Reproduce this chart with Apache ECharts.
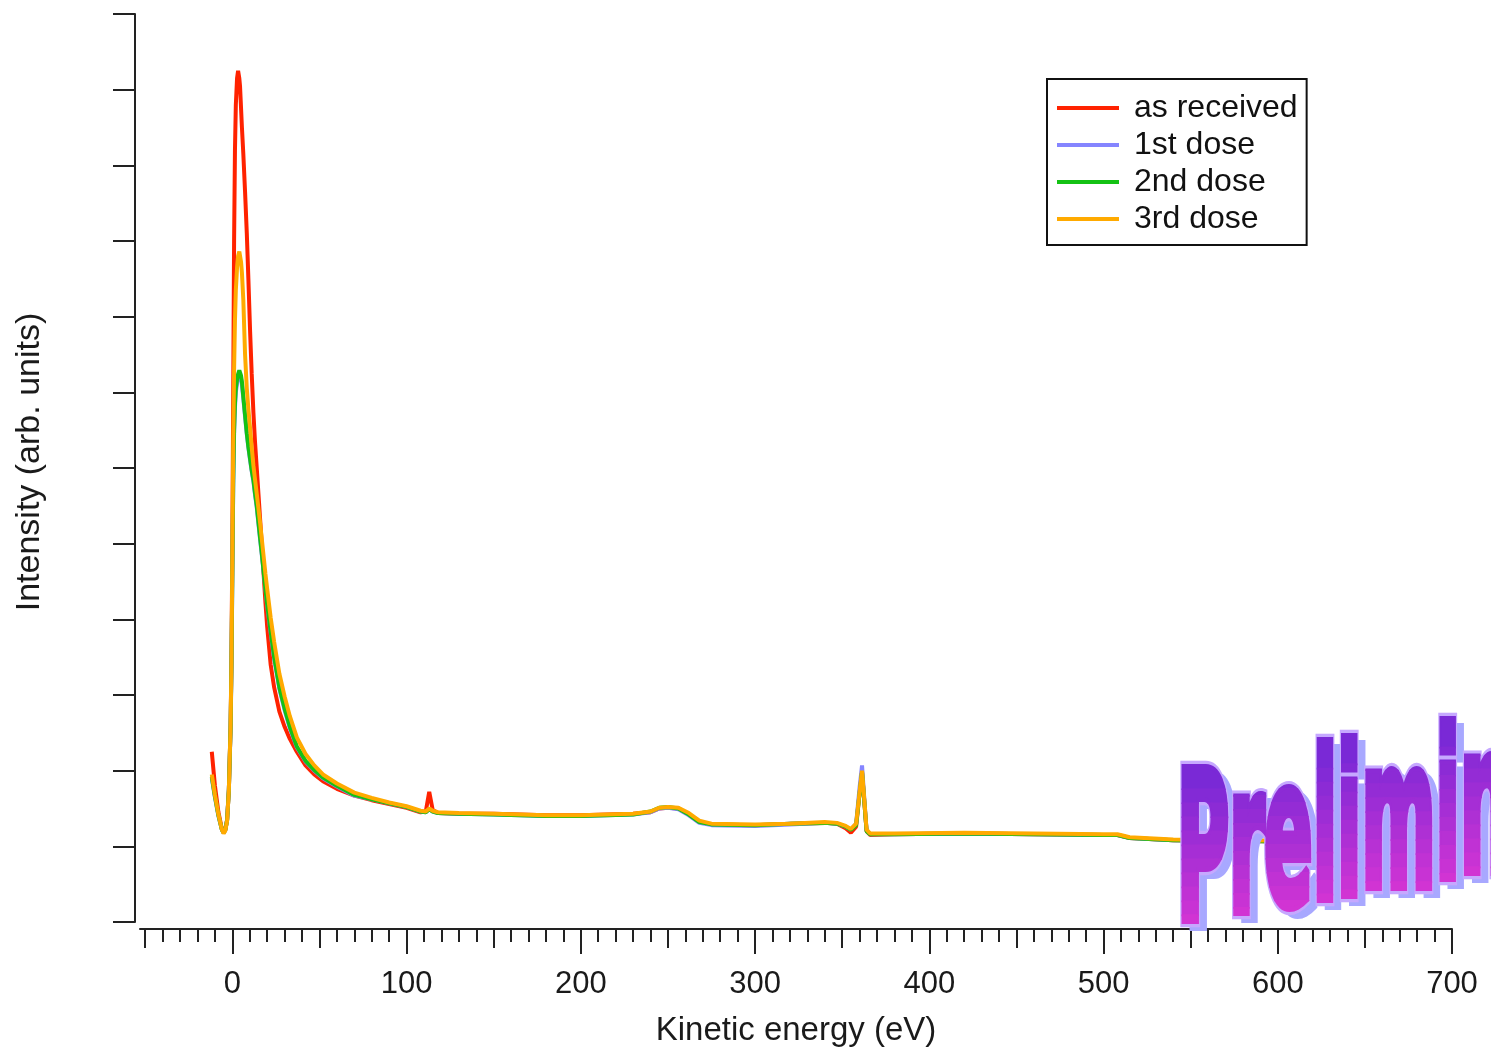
<!DOCTYPE html>
<html>
<head>
<meta charset="utf-8">
<script src="https://cdn.jsdelivr.net/npm/echarts@6/dist/echarts.min.js"></script>
<style>
html,body{margin:0;padding:0;background:#ffffff;}
#chart{width:1491px;height:1047px;}
</style>
</head>
<body>
<div id="chart"></div>
<script>
// ---------------- data ----------------
const energy = [-11.8, -10, -8, -6, -5, -4, -3, -2, -1, -0.5, 0, 0.5, 1, 1.5, 2, 2.7, 3.3, 4, 4.4, 5, 5.5, 6.3, 7.3, 8.3, 9.2, 10.2, 11.1, 12.1, 13, 14, 15, 16, 17, 18, 19, 20, 22, 24, 27, 30, 33, 37, 42, 47, 52, 60, 70, 80, 90, 100, 108, 111, 113, 115, 118, 130, 150, 180, 200, 230, 240, 245, 250, 256, 262, 268, 275, 300, 320, 340, 347, 352, 355, 358, 360, 361.4, 362.5, 364, 366, 380, 420, 460, 500, 508, 515, 540, 580, 620, 660, 700];

const asReceived = [2.25, 1.80, 1.45, 1.23, 1.18, 1.22, 1.35, 1.75, 2.60, 3.50, 5.00, 7.00, 9.00, 10.20, 10.80, 11.15, 11.25, 11.15, 11.05, 10.75, 10.50, 10.15, 9.65, 9.10, 8.50, 7.80, 7.25, 6.73, 6.35, 6.00, 5.65, 5.30, 4.95, 4.58, 4.22, 3.90, 3.40, 3.10, 2.78, 2.58, 2.42, 2.25, 2.07, 1.95, 1.86, 1.76, 1.67, 1.61, 1.56, 1.51, 1.45, 1.46, 1.72, 1.48, 1.44, 1.43, 1.43, 1.41, 1.41, 1.43, 1.45, 1.50, 1.51, 1.50, 1.42, 1.32, 1.29, 1.28, 1.30, 1.31, 1.30, 1.24, 1.18, 1.26, 1.70, 1.98, 1.65, 1.20, 1.15, 1.16, 1.17, 1.16, 1.15, 1.15, 1.11, 1.08, 1.07, 1.06, 1.05, 1.05];

const dose1 = [1.90, 1.65, 1.40, 1.22, 1.18, 1.22, 1.35, 1.75, 2.55, 3.35, 4.55, 5.75, 6.45, 6.80, 7.00, 7.12, 7.20, 7.24, 7.25, 7.18, 7.10, 6.92, 6.68, 6.45, 6.27, 6.10, 5.96, 5.82, 5.65, 5.48, 5.26, 5.04, 4.83, 4.62, 4.40, 4.18, 3.82, 3.48, 3.08, 2.80, 2.56, 2.31, 2.12, 2.00, 1.90, 1.79, 1.67, 1.62, 1.57, 1.52, 1.46, 1.45, 1.49, 1.46, 1.44, 1.43, 1.42, 1.40, 1.40, 1.42, 1.45, 1.50, 1.51, 1.49, 1.41, 1.31, 1.28, 1.27, 1.29, 1.31, 1.30, 1.26, 1.22, 1.30, 1.78, 2.07, 1.70, 1.21, 1.16, 1.16, 1.17, 1.16, 1.15, 1.15, 1.11, 1.08, 1.07, 1.06, 1.05, 1.05];

const dose2 = [1.92, 1.66, 1.41, 1.22, 1.18, 1.22, 1.35, 1.75, 2.58, 3.40, 4.60, 5.80, 6.50, 6.85, 7.05, 7.17, 7.24, 7.29, 7.30, 7.22, 7.14, 6.94, 6.70, 6.46, 6.28, 6.12, 5.97, 5.84, 5.67, 5.50, 5.28, 5.06, 4.85, 4.62, 4.40, 4.20, 3.84, 3.50, 3.10, 2.82, 2.58, 2.32, 2.13, 2.01, 1.91, 1.80, 1.68, 1.62, 1.57, 1.52, 1.46, 1.45, 1.49, 1.46, 1.44, 1.43, 1.42, 1.40, 1.40, 1.42, 1.46, 1.51, 1.52, 1.50, 1.42, 1.32, 1.29, 1.28, 1.30, 1.31, 1.30, 1.26, 1.22, 1.28, 1.70, 1.98, 1.65, 1.20, 1.16, 1.16, 1.17, 1.16, 1.15, 1.15, 1.11, 1.08, 1.07, 1.06, 1.05, 1.05];

const dose3 = [1.95, 1.68, 1.42, 1.22, 1.17, 1.21, 1.34, 1.74, 2.60, 3.45, 4.80, 6.30, 7.30, 7.95, 8.35, 8.65, 8.80, 8.86, 8.85, 8.72, 8.58, 8.22, 7.50, 7.05, 6.78, 6.52, 6.28, 6.03, 5.85, 5.66, 5.46, 5.26, 5.04, 4.82, 4.60, 4.40, 4.02, 3.70, 3.28, 2.98, 2.72, 2.44, 2.22, 2.07, 1.95, 1.83, 1.71, 1.64, 1.58, 1.53, 1.47, 1.46, 1.50, 1.47, 1.45, 1.44, 1.43, 1.41, 1.41, 1.43, 1.46, 1.51, 1.52, 1.51, 1.44, 1.34, 1.30, 1.29, 1.30, 1.32, 1.31, 1.27, 1.23, 1.30, 1.72, 2.00, 1.68, 1.22, 1.17, 1.17, 1.18, 1.17, 1.16, 1.16, 1.12, 1.09, 1.08, 1.07, 1.06, 1.06];

const seriesNames = ['as received', '1st dose', '2nd dose', '3rd dose'];
const seriesColors = ['#ff2200', '#8585ff', '#14c214', '#ffaa00'];
const xMajorTicks = [0, 100, 200, 300, 400, 500, 600, 700];
const xMidTicks = [-50, 50, 150, 250, 350, 450, 550, 650];
const watermarkText = 'Preliminary';

// ---------------- chart ----------------
const chart = echarts.init(document.getElementById('chart'), null, {renderer: 'canvas'});

const xMinorTicks = [];
for (let v = -50; v <= 700; v += 10) xMinorTicks.push(v);

const FONT = 'Liberation Sans, Arial, sans-serif';
const TXT = '#1a1a1a';
const AX = '#222222';

function toPairs(arr) { return energy.map((e, i) => [e, arr[i]]); }
const seriesData = [asReceived, dose1, dose2, dose3];

function tickAxis(values, len) {
  return {
    type: 'value', gridIndex: 0, min: -53, max: 700, position: 'bottom', offset: 7,
    axisLine: {show: false, onZero: false},
    axisTick: {show: true, customValues: values, length: len, lineStyle: {color: AX, width: 2}},
    axisLabel: {show: false},
    splitLine: {show: false}
  };
}

// ---- Watermark "Preliminary": letters on a sheared baseline, vertical violet->magenta gradient
// (gradient made of horizontal colour bands, each band a clipped copy of the letter)
const BANDS = 12;
const GRAD_TOP = -44, GRAD_BOT = 38;          // letter-local y range of the gradient
function hex2(v) { const s = Math.round(v).toString(16); return s.length < 2 ? '0' + s : s; }
function mix(c1, c2, t) {
  const a = [1, 3, 5].map(i => parseInt(c1.substr(i, 2), 16));
  const b = [1, 3, 5].map(i => parseInt(c2.substr(i, 2), 16));
  return '#' + a.map((v, i) => hex2(v + (b[i] - v) * t)).join('');
}
const bandColors = [];
for (let i = 0; i < BANDS; i++) bandColors.push(mix('#7628d6', '#de36d3', (i + 0.5) / BANDS));

const graphics = [];
(function () {
  const fontPx = 100;
  const font = 'bold ' + fontPx + 'px "DejaVu Sans Condensed", "DejaVu Sans", sans-serif';
  const cv = document.createElement('canvas').getContext('2d');
  cv.font = font;
  const span = cv.measureText('Prelimi').width;
  const sx = 283 / span;
  const sy = 2.05;
  const x0 = 1177, yc0 = 866, slope = 0.17;
  let cum = 0;
  for (const ch of watermarkText) {
    const adv = cv.measureText(ch).width;
    const x = x0 + cum * sx;
    cum += adv;
    if (x > 1480) break;
    const yc = yc0 - slope * (x + adv * sx / 2 - 1200);
    const base = {type: 'text', x: x, y: yc, scaleX: sx, scaleY: sy, silent: true};
    const common = {text: ch, font: font, align: 'left', verticalAlign: 'middle',
      textAlign: 'left', textVerticalAlign: 'middle'};
    graphics.push(Object.assign({}, base, {x: x + 8, y: yc + 7, z: 100,
      style: Object.assign({fill: '#a8a8ff', stroke: '#a8a8ff', lineWidth: 5}, common)}));
    graphics.push(Object.assign({}, base, {z: 101,
      style: Object.assign({fill: '#c6a8ff', stroke: '#c6a8ff', lineWidth: 8}, common)}));
    bandColors.forEach(function (c) {
      graphics.push(Object.assign({}, base, {z: 102,
        style: Object.assign({fill: c, stroke: c, lineWidth: 5}, common)}));
    });
  }
})();

const option = {
  animation: false,
  backgroundColor: '#ffffff',
  grid: {left: 140, right: 39, top: 14, bottom: 125, containLabel: false, outerBoundsMode: 'none'},
  legend: {
    orient: 'vertical', left: 1047, top: 79,
    padding: [13, 9, 10, 10],
    icon: 'rect',
    itemWidth: 62, itemHeight: 4, itemGap: 5,
    borderColor: '#111111', borderWidth: 2, backgroundColor: '#ffffff',
    textStyle: {fontSize: 32, color: '#111111', fontFamily: FONT, padding: [0, 0, 0, 10], lineHeight: 32},
    data: seriesNames
  },
  xAxis: [
    {
      type: 'value', gridIndex: 0, min: -53, max: 700, position: 'bottom', offset: 7,
      axisLine: {show: true, onZero: false, lineStyle: {color: AX, width: 2}},
      axisTick: {show: true, customValues: xMajorTicks, length: 25, lineStyle: {color: AX, width: 2}},
      axisLabel: {show: true, customValues: xMajorTicks, margin: 40, fontSize: 31, color: TXT, fontFamily: FONT},
      splitLine: {show: false},
      name: 'Kinetic energy (eV)', nameLocation: 'middle', nameGap: 85,
      nameTextStyle: {fontSize: 33, color: TXT, fontFamily: FONT}
    },
    tickAxis(xMidTicks, 19),
    tickAxis(xMinorTicks, 13)
  ],
  yAxis: {
    type: 'value', min: 0, max: 12, interval: 1, position: 'left', offset: 5,
    axisLine: {show: true, onZero: false, lineStyle: {color: AX, width: 2}},
    axisTick: {show: true, inside: false, length: 22, lineStyle: {color: AX, width: 2}},
    axisLabel: {show: false},
    splitLine: {show: false},
    name: 'Intensity (arb. units)', nameLocation: 'middle', nameGap: 88,
    nameTextStyle: {fontSize: 34, color: TXT, fontFamily: FONT, padding: [0, 0, 0, 12]}
  },
  series: seriesNames.map((name, k) => ({
    name: name, type: 'line', xAxisIndex: 0, yAxisIndex: 0,
    data: toPairs(seriesData[k]),
    symbol: 'none', showSymbol: false,
    lineStyle: {width: 4, color: seriesColors[k]},
    itemStyle: {color: seriesColors[k]},
    z: 2 + k
  })),
  graphic: {elements: graphics}
};

chart.setOption(option);

// Clip every colour band of the watermark letters to its horizontal stripe
(function () {
  const bandIndex = {};
  bandColors.forEach((c, i) => { bandIndex[c] = i; });
  const step = (GRAD_BOT - GRAD_TOP) / BANDS;
  const zr = chart.getZr();
  zr.storage.getDisplayList(true).forEach(function (el) {
    const c = el.style && el.style.fill;
    if (typeof c !== 'string' || bandIndex[c] === undefined) return;
    const i = bandIndex[c];
    const y0 = i === 0 ? -300 : GRAD_TOP + i * step - 0.4;
    const y1 = i === BANDS - 1 ? 300 : GRAD_TOP + (i + 1) * step + 0.4;
    const host = el.parent || el;
    host.setClipPath(new echarts.graphic.Rect({shape: {x: -200, y: y0, width: 600, height: y1 - y0}}));
  });
  zr.refreshImmediately();
})();
</script>
</body>
</html>
